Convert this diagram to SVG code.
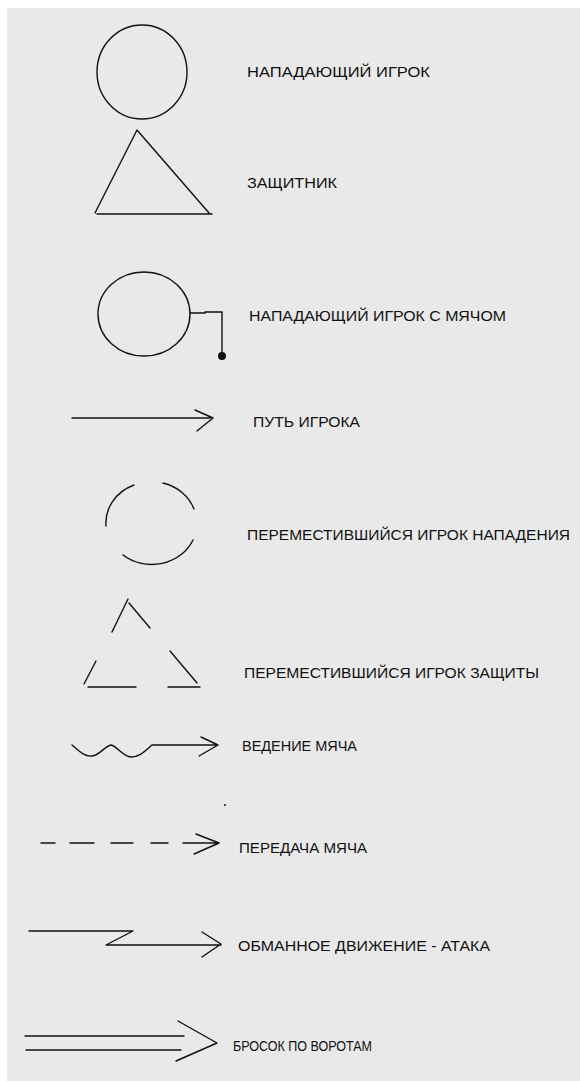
<svg xmlns="http://www.w3.org/2000/svg" width="580" height="1081" viewBox="0 0 580 1081">
<style>
.s{fill:none;stroke:#111;stroke-width:1.4;stroke-linecap:round;stroke-linejoin:round}
.t{font-family:"Liberation Sans",Arial,sans-serif;font-size:15px;fill:#111}
</style>
<rect x="0" y="0" width="580" height="1081" fill="#fff"/>
<rect x="7" y="8" width="573" height="1073" fill="#e9e9e9"/>
<g id="attacker">
<ellipse class="s" cx="142" cy="72" rx="45" ry="47"/>
<text class="t" x="247" y="77" textLength="183" lengthAdjust="spacingAndGlyphs">НАПАДАЮЩИЙ ИГРОК</text>
</g>
<g id="defender">
<path class="s" d="M95,213 L137,130 L209,213 M97,214 L212,214"/>
<text class="t" x="247" y="188" textLength="90" lengthAdjust="spacingAndGlyphs">ЗАЩИТНИК</text>
</g>
<g id="attacker-ball">
<ellipse class="s" cx="144" cy="314" rx="46" ry="42"/>
<path class="s" d="M190,313 L205,313 L205,312 L222,312 L222,356"/>
<circle cx="222" cy="356" r="4" fill="#111"/>
<text class="t" x="249" y="321" textLength="257" lengthAdjust="spacingAndGlyphs">НАПАДАЮЩИЙ ИГРОК С МЯЧОМ</text>
</g>
<g id="moved-attacker">
<path class="s" d="M134,485 A45,41 0 0 0 106,526 M163,483 A45,41 0 0 1 194,509 M193,540 A45,41 0 0 1 123,555"/>
<text class="t" x="247" y="540" textLength="323" lengthAdjust="spacingAndGlyphs">ПЕРЕМЕСТИВШИЙСЯ ИГРОК НАПАДЕНИЯ</text>
</g>
<g id="moved-defender">
<path class="s" d="M112,632 L128,599 M129,603 L150,628 M96,661 L84,684 M88,687 L136,687 M170,651 L197,683 M168,687 L200,687"/>
<text class="t" x="244" y="678" textLength="295" lengthAdjust="spacingAndGlyphs">ПЕРЕМЕСТИВШИЙСЯ ИГРОК ЗАЩИТЫ</text>
</g>
<g id="connectors">
<g id="player-path">
<path class="s" d="M72,418 L210,418 M195,410 L213,418 L197,431"/>
</g>
<g id="dribble">
<path class="s" d="M72,745 C80,752 85,757 92,756 C100,755 105,746 111,745 C117,746 123,757 131,757 C140,757 146,750 152,745 L218,745 M201,737 L218,745 L199,756"/>
</g>
<g id="pass">
<path class="s" d="M41,843 L55,843 M70,843 L94,843 M111,843 L133,843 M151,843 L168,843 M183,843 L218,843 M196,834 L219,843 L194,854"/>
<circle cx="225" cy="805" r="1" fill="#111"/>
</g>
<g id="feint">
<path class="s" d="M29,931 L133,931 L106,945 L221,945 M202,932 L221,944 L202,957"/>
</g>
<g id="shot">
<path class="s" d="M25,1036 L184,1036 M26,1050 L181,1050 M178,1021 L217,1043 L176,1061"/>
</g>
</g>
<g id="labels">
<text class="t" x="253" y="427" textLength="107" lengthAdjust="spacingAndGlyphs">ПУТЬ ИГРОКА</text>
<text class="t" x="242" y="751" textLength="115" lengthAdjust="spacingAndGlyphs">ВЕДЕНИЕ МЯЧА</text>
<text class="t" x="239" y="853" textLength="128" lengthAdjust="spacingAndGlyphs">ПЕРЕДАЧА МЯЧА</text>
<text class="t" x="238" y="951" textLength="252" lengthAdjust="spacingAndGlyphs">ОБМАННОЕ ДВИЖЕНИЕ - АТАКА</text>
<text class="t" x="233" y="1051" textLength="139" lengthAdjust="spacingAndGlyphs">БРОСОК ПО ВОРОТАМ</text>
</g>
</svg>
